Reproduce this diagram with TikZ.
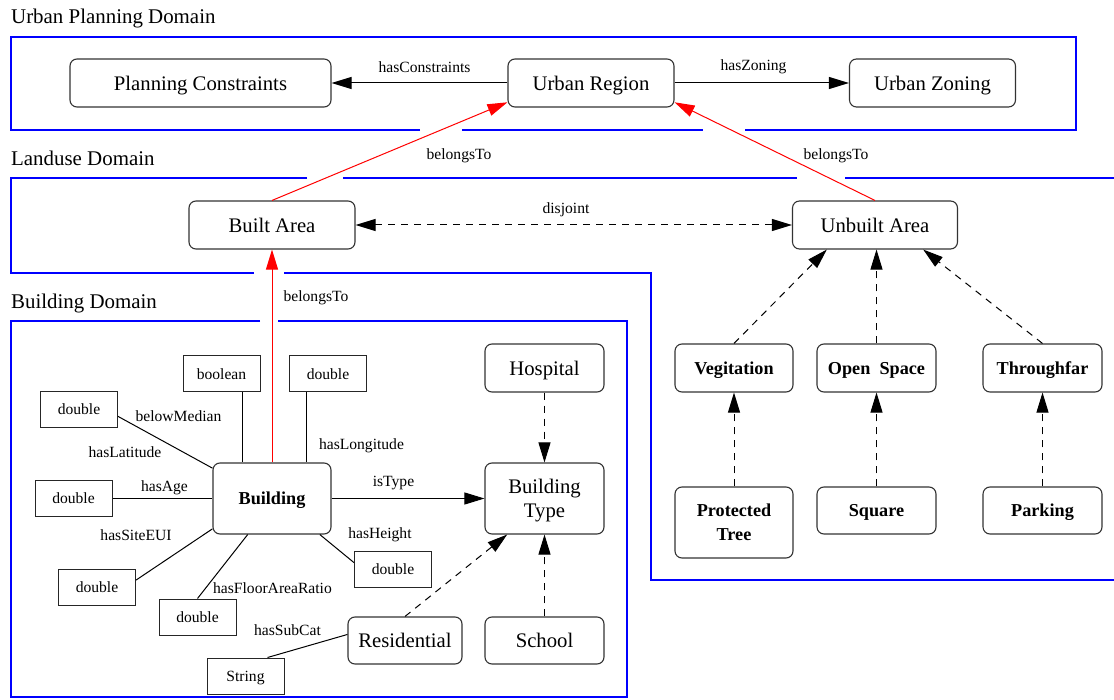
\documentclass[tikz,border=0pt]{standalone}
\usepackage{fontspec}
\setmainfont{Liberation Serif}
\usetikzlibrary{arrows.meta}

\begin{document}
\begin{tikzpicture}[
    x=1pt, y=-1pt,
    >={Triangle[length=20pt, width=12pt]},
    cls/.style={draw=black!80, line width=1.1pt, rounded corners=7pt, align=center, inner sep=2pt, text depth=0pt, font=\fontsize{20.7}{24}\selectfont},
    bcls/.style={cls, font=\fontsize{18.2}{24}\selectfont\bfseries},
    lit/.style={draw=black!85, line width=1pt, minimum width=77pt, minimum height=36pt, inner sep=1pt, text depth=0pt, font=\fontsize{15.6}{18}\selectfont},
    lbl/.style={inner sep=0pt, font=\fontsize{15.6}{18}\selectfont},
    domlbl/.style={anchor=base west, inner sep=0pt, font=\fontsize{20.9}{24}\selectfont},
    dom/.style={draw=blue, line width=2.6pt},
    rel/.style={draw, line width=1pt},
    arr/.style={rel, ->},
    sub/.style={arr, dash pattern=on 7pt off 6pt},
    belong/.style={arr, red}
  ]
    \useasboundingbox (0,0) rectangle (1114,700);

    \node[domlbl] (urbdom) at (11,24) {Urban Planning Domain};
    \node[domlbl] (landdom) at (11,166) {Landuse Domain};
    \node[domlbl] (blddom) at (11,309) {Building Domain};

    \draw[dom] (420,130) -- (11,130) -- (11,37) -- (1076,37) -- (1076,130) -- (745,130);
    \draw[dom] (462,130) -- (703,130);
    \draw[dom] (307,178) -- (11,178) -- (11,273) -- (254,273);
    \draw[dom] (343,178) -- (797,178);
    \draw[dom] (845,178) -- (1120,178);
    \draw[dom] (284,273) -- (651,273) -- (651,580) -- (1120,580);
    \draw[dom] (260,321) -- (11,321) -- (11,697) -- (627,697) -- (627,321) -- (278,321);

    \node[cls, minimum width=261pt, minimum height=48pt] (plan) at (200.5,83) {Planning Constraints};
    \node[cls, minimum width=166pt, minimum height=48pt] (region) at (591,83) {Urban Region};
    \node[cls, minimum width=166pt, minimum height=48pt] (zoning) at (932.5,83) {Urban Zoning};
    \node[cls, minimum width=166pt, minimum height=48pt] (built) at (272,225) {Built Area};
    \node[cls, minimum width=165pt, minimum height=48pt] (unbuilt) at (875,225) {Unbuilt Area};

    \node[bcls, minimum width=118pt, minimum height=71pt] (bldg) at (272,498.5) {Building};
    \node[cls, minimum width=119pt, minimum height=71pt] (btype) at (544.5,498.5) {Building\\Type};
    \node[cls, minimum width=119pt, minimum height=48pt] (hosp) at (544.5,368) {Hospital};
    \node[cls, minimum width=119pt, minimum height=47pt] (school) at (544.5,640.5) {School};
    \node[cls, minimum width=114pt, minimum height=47pt] (resid) at (405,640.5) {Residential};

    \node[lit] (boolv) at (221.5,374) {boolean};
    \node[lit] (lonv) at (328,374) {double};
    \node[lit] (latv) at (79,409.5) {double};
    \node[lit] (agev) at (73.5,498.5) {double};
    \node[lit] (euiv) at (97,587) {double};
    \node[lit] (farv) at (197.5,617) {double};
    \node[lit] (heightv) at (393,569.5) {double};
    \node[lit] (subcatv) at (245.5,676) {String};

    \node[bcls, minimum width=118pt, minimum height=48pt] (veg) at (734,368) {Vegitation};
    \node[bcls, minimum width=119pt, minimum height=48pt] (open) at (876.5,368) {Open\ \ Space};
    \node[bcls, minimum width=119pt, minimum height=48pt] (thru) at (1042.5,368) {Throughfar};
    \node[bcls, minimum width=118pt, minimum height=71pt] (ptree) at (734,522.5) {Protected\\Tree};
    \node[bcls, minimum width=119pt, minimum height=47pt] (square) at (876.5,510.5) {Square};
    \node[bcls, minimum width=119pt, minimum height=47pt] (parking) at (1042.5,510.5) {Parking};

    \node[lbl] (lconstr) at (424.6,67) {hasConstraints};
    \node[lbl] (lzoning) at (753.5,67) {hasZoning};
    \node[lbl] (lbelong1) at (459,156) {belongsTo};
    \node[lbl] (lbelong2) at (836,156) {belongsTo};
    \node[lbl] (ldisj) at (566,210) {disjoint};
    \node[lbl] (lbelong3) at (316,298) {belongsTo};
    \node[lbl] (lmedian) at (178.5,416) {belowMedian};
    \node[lbl] (llat) at (125,452) {hasLatitude};
    \node[lbl] (llon) at (361.5,446) {hasLongitude};
    \node[lbl] (ltype) at (393.5,483) {isType};
    \node[lbl] (lage) at (164.5,488) {hasAge};
    \node[lbl] (leui) at (136,535) {hasSiteEUI};
    \node[lbl] (lheight) at (380,535) {hasHeight};
    \node[lbl] (lfar) at (272.5,588) {hasFloorAreaRatio};
    \node[lbl] (lsubcat) at (287.5,630) {hasSubCat};

    \draw[arr] (region) -- (plan);
    \draw[arr] (region) -- (zoning);
    \draw[belong] (built.north) -- (region.193);
    \draw[belong] (unbuilt.north) -- (region.-13);
    \draw[sub, <->] (built) -- (unbuilt);
    \draw[belong] (bldg) -- (built);

    \draw[rel] (boolv.-41) -- (boolv.-41 |- bldg.north);
    \draw[rel] (lonv.-139) -- (lonv.-139 |- bldg.north);
    \draw[rel] (latv.-10) -- (bldg.153);
    \draw[rel] (agev) -- (bldg);
    \draw[rel] (euiv.10) -- (bldg.207);
    \draw[rel] (farv.north) -- (bldg.236);
    \draw[rel] (heightv.170) -- (bldg.-37);
    \draw[rel] (subcatv.40) -- (resid.174);
    \draw[arr] (bldg) -- (btype);
    \draw[sub] (hosp) -- (btype);
    \draw[sub] (school) -- (btype);
    \draw[sub] (resid.north) -- (btype.224);

    \draw[sub] (veg.north) -- (unbuilt.207);
    \draw[sub] (open.north) -- (open.north |- unbuilt.south);
    \draw[sub] (thru.north) -- (unbuilt.-27);
    \draw[sub] (ptree) -- (veg);
    \draw[sub] (square) -- (open);
    \draw[sub] (parking) -- (thru);
  \end{tikzpicture}
\end{document}
